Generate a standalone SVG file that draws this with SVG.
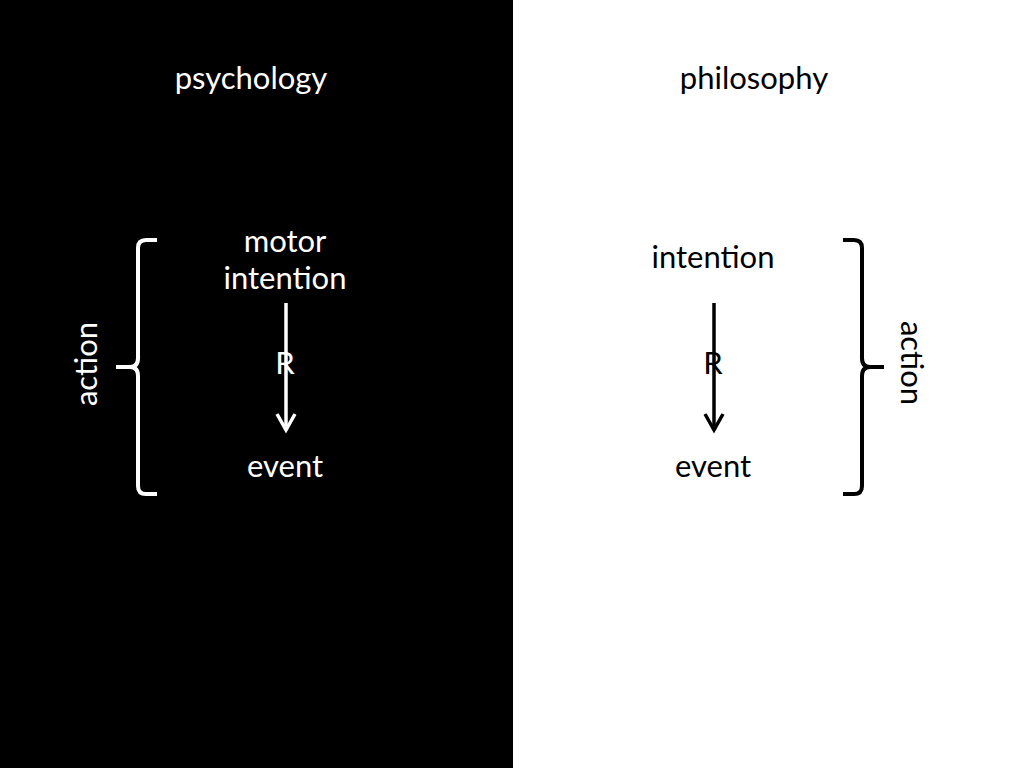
<svg xmlns="http://www.w3.org/2000/svg" width="1024" height="768" viewBox="0 0 1024 768">
<style>
text{font-family:Lato,"Open Sans","Liberation Sans",sans-serif;font-size:31px;text-anchor:middle}
.w{fill:#fff}.k{fill:#000}
.brace{fill:none;stroke-width:4;stroke-linecap:butt;stroke-linejoin:round}
.arr{stroke-width:3.5;fill:none}
.head{fill:none;stroke-width:3.5;stroke-linejoin:miter}
</style>
<rect x="0" y="0" width="1024" height="768" fill="#fff"/>
<rect x="0" y="0" width="513" height="768" fill="#000"/>
<g id="psychology"><text class="w" x="251" y="89">psychology</text></g>
<g id="philosophy"><text class="k" x="754" y="89">philosophy</text></g>
<g id="motor-intention"><text class="w" x="285" y="252">motor</text><text class="w" x="285" y="289">intention</text></g>
<g id="event-left"><text class="w" x="285" y="477">event</text></g>
<g id="action-left"><text class="w" transform="translate(97,364) rotate(-90)">action</text></g>
<g id="intention-right"><text class="k" x="713" y="268">intention</text></g>
<g id="event-right"><text class="k" x="713" y="477">event</text></g>
<g id="action-right"><text class="k" transform="translate(901,363) rotate(90)">action</text></g>
<g id="connectors">
<path class="arr" stroke="#fff" d="M286,303 V426"/>
<path class="head" stroke="#fff" d="M277,414 L286,430 L295,414"/>
<path class="arr" stroke="#000" d="M714,303 V426"/>
<path class="head" stroke="#000" d="M705,414 L714,430 L723,414"/>
<path class="brace" stroke="#fff" d="M157,240 H146 Q138,240 138,248 V358 Q138,367 130,367 H116 M130,367 Q138,367 138,376 V486 Q138,494 146,494 H157"/>
<path class="brace" stroke="#000" d="M843,240 H854 Q862,240 862,248 V358 Q862,367 870,367 H884 M870,367 Q862,367 862,376 V486 Q862,494 854,494 H843"/>
<text class="w" x="285" y="374">R</text>
<text class="k" x="713" y="374">R</text>
</g>
</svg>
